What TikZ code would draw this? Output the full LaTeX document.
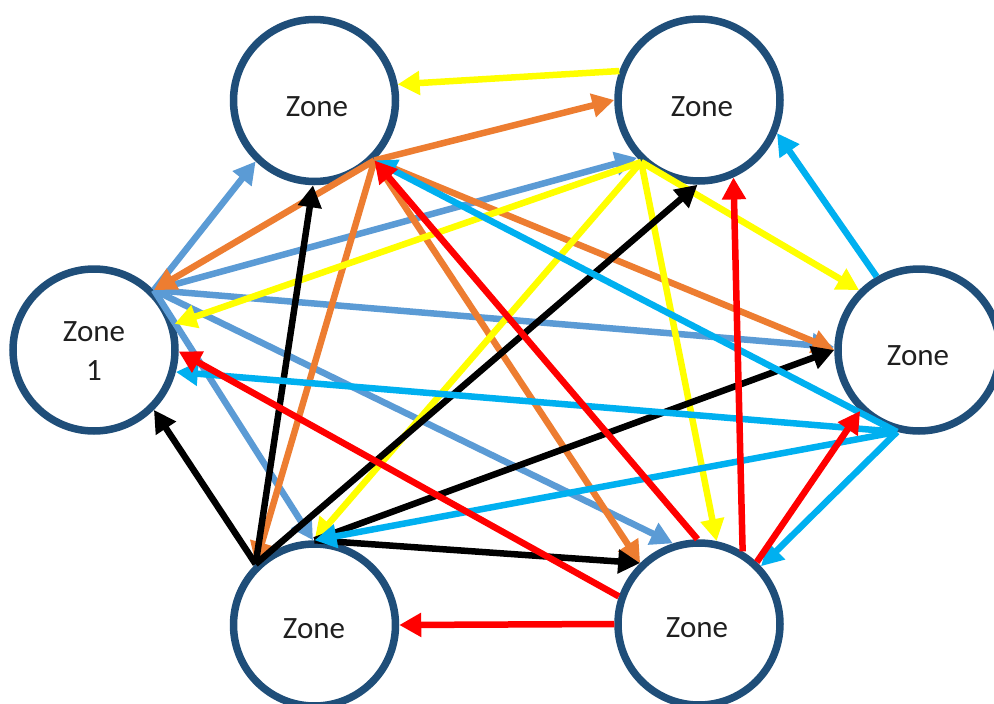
\documentclass[tikz,border=0pt]{standalone}
\usepackage{fontspec}
\setmainfont{Carlito}
\usetikzlibrary{arrows.meta}
\definecolor{zoneblue}{HTML}{1F4E79}
\definecolor{flowyellow}{HTML}{FFFF00}
\definecolor{floworange}{HTML}{ED7D31}
\definecolor{flowsteel}{HTML}{5B9BD5}
\definecolor{flowcyan}{HTML}{00B0F0}
\definecolor{flowred}{HTML}{FF0000}
\begin{document}
\begin{tikzpicture}[x=1pt,y=-1pt,
  zone/.style={circle, draw=zoneblue, line width=7.5pt, fill=white,
    minimum size=162pt, inner sep=0pt},
  zonetext/.style={font=\fontsize{31}{39}\selectfont, text=black!88,
    align=center, inner sep=0pt},
  flow/.style={line width=6.5pt, -{Triangle[length=22pt,width=23pt]}},
]
\clip (0,0) rectangle (994,704);
\fill[white] (0,0) rectangle (994,704);

% zones
\node[zone] (tl) at (314.5,100.5) {};
\node[zone] (tr) at (699,100) {};
\node[zone] (l)  at (94,350) {};
\node[zone] (r)  at (919,350) {};
\node[zone] (bl) at (314.5,625) {};
\node[zone] (br) at (699,624) {};

% steel blue flows out of Zone 1
\draw[flow, flowsteel] (l.45) -- (bl.91);
\draw[flow, flowsteel] (l.45) -- (r.178);
\draw[flow, flowsteel] (l.45) -- (br.108);
\draw[flow, flowsteel] (l.45) -- (tr.-137);
\draw[flow, flowsteel] (l.45) -- (tl.-134);

% orange flows out of the upper left zone
\draw[flow, floworange] (tl.-45) -- (tr.180);
\draw[flow, floworange] (tl.-45) -- (r.180);
\draw[flow, floworange] (tl.-45) -- (br.134);
\draw[flow, floworange] (tl.-45) -- (bl.134);
\draw[flow, floworange] (tl.-45) -- (l.45);

% yellow flows out of the upper right zone
\draw[flow, flowyellow] (tr.160) -- (tl.11);
\draw[flow, flowyellow] (tr.-133) -- (l.18);
\draw[flow, flowyellow] (tr.-133) -- (bl.90);
\draw[flow, flowyellow] (tr.-133) -- (br.78);
\draw[flow, flowyellow] (tr.-133) -- (r.135);

% black flows out of the lower left zone
\draw[flow, black] (bl.134) -- (tl.-91);
\draw[flow, black] (bl.134) -- (l.-45);
\draw[flow, black] (bl.134) -- (tr.-91);
\draw[flow, black] (bl.90) -- (r.180);
\draw[flow, black] (bl.90) -- (br.134);

% cyan flows out of the right zone
\draw[flow, flowcyan] (r.120) -- (tr.-23);
\draw[flow, flowcyan] (r.-105) -- (tl.-45);
\draw[flow, flowcyan] (r.-105) -- (l.-15);
\draw[flow, flowcyan] (r.-105) -- (bl.90);
\draw[flow, flowcyan] (r.-105) -- (br.43);

% red flows out of the lower right zone
\draw[flow, flowred] (br.91) -- (tl.-45);
\draw[flow, flowred] (br.161) -- (l.-1);
\draw[flow, flowred] (br.180) -- (bl.0);
\draw[flow, flowred] (br.59) -- (tr.-66);
\draw[flow, flowred] (br.47) -- (r.-134);

% labels
\node[zonetext] (tlt) at (317,107) {Zone};
\node[zonetext] (trt) at (702,107) {Zone};
\node[zonetext] (lt)  at (94,351) {Zone\\1};
\node[zonetext] (rt)  at (918,356) {Zone};
\node[zonetext] (blt) at (314,629) {Zone};
\node[zonetext] (brt) at (697,628) {Zone};
\end{tikzpicture}
\end{document}
